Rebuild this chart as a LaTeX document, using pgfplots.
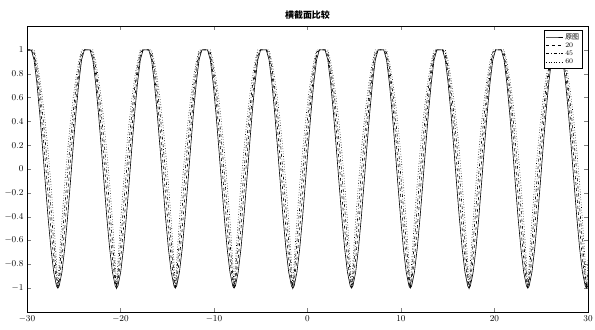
\documentclass[border=0pt]{standalone}
\usepackage{fontspec}
\usepackage{pgfplots}
\usepackage{pgfplotstable}
\pgfplotsset{compat=1.18}
\newfontfamily\cjk{Noto Sans CJK SC}

\pgfplotstableread{
x y1 y2 y3 y4
-30.000 1 1 1 1
-29.845 1 1 1 1
-29.545 1 1 1 1
-29.245 0.916 0.951 0.978 1
-28.945 0.722 0.796 0.853 0.903
-28.645 0.472 0.590 0.684 0.767
-28.345 0.185 0.343 0.475 0.595
-28.045 -0.116 0.069 0.233 0.389
-27.745 -0.408 -0.217 -0.035 0.149
-27.445 -0.665 -0.498 -0.319 -0.122
-27.145 -0.865 -0.752 -0.609 -0.428
-26.845 -0.982 -0.949 -0.887 -0.781
-26.704 -1 -1 -1 -1
-26.562 -0.982 -0.949 -0.887 -0.781
-26.262 -0.865 -0.752 -0.609 -0.428
-25.962 -0.665 -0.498 -0.319 -0.122
-25.662 -0.408 -0.217 -0.035 0.149
-25.362 -0.116 0.069 0.233 0.389
-25.062 0.185 0.343 0.475 0.595
-24.762 0.472 0.590 0.684 0.767
-24.462 0.722 0.796 0.853 0.903
-24.162 0.916 0.951 0.978 1
-23.862 1 1 1 1
-23.562 1 1 1 1
-23.262 1 1 1 1
-22.962 0.916 0.951 0.978 1
-22.662 0.722 0.796 0.853 0.903
-22.362 0.472 0.590 0.684 0.767
-22.062 0.185 0.343 0.475 0.595
-21.762 -0.116 0.069 0.233 0.389
-21.462 -0.408 -0.217 -0.035 0.149
-21.162 -0.665 -0.498 -0.319 -0.122
-20.862 -0.865 -0.752 -0.609 -0.428
-20.562 -0.982 -0.949 -0.887 -0.781
-20.420 -1 -1 -1 -1
-20.279 -0.982 -0.949 -0.887 -0.781
-19.979 -0.865 -0.752 -0.609 -0.428
-19.679 -0.665 -0.498 -0.319 -0.122
-19.379 -0.408 -0.217 -0.035 0.149
-19.079 -0.116 0.069 0.233 0.389
-18.779 0.185 0.343 0.475 0.595
-18.479 0.472 0.590 0.684 0.767
-18.179 0.722 0.796 0.853 0.903
-17.879 0.916 0.951 0.978 1
-17.579 1 1 1 1
-17.279 1 1 1 1
-16.979 1 1 1 1
-16.679 0.916 0.951 0.978 1
-16.379 0.722 0.796 0.853 0.903
-16.079 0.472 0.590 0.684 0.767
-15.779 0.185 0.343 0.475 0.595
-15.479 -0.116 0.069 0.233 0.389
-15.179 -0.408 -0.217 -0.035 0.149
-14.879 -0.665 -0.498 -0.319 -0.122
-14.579 -0.865 -0.752 -0.609 -0.428
-14.279 -0.982 -0.949 -0.887 -0.781
-14.137 -1 -1 -1 -1
-13.996 -0.982 -0.949 -0.887 -0.781
-13.696 -0.865 -0.752 -0.609 -0.428
-13.396 -0.665 -0.498 -0.319 -0.122
-13.096 -0.408 -0.217 -0.035 0.149
-12.796 -0.116 0.069 0.233 0.389
-12.496 0.185 0.343 0.475 0.595
-12.196 0.472 0.590 0.684 0.767
-11.896 0.722 0.796 0.853 0.903
-11.596 0.916 0.951 0.978 1
-11.296 1 1 1 1
-10.996 1 1 1 1
-10.696 1 1 1 1
-10.396 0.916 0.951 0.978 1
-10.096 0.722 0.796 0.853 0.903
-9.796 0.472 0.590 0.684 0.767
-9.496 0.185 0.343 0.475 0.595
-9.196 -0.116 0.069 0.233 0.389
-8.896 -0.408 -0.217 -0.035 0.149
-8.596 -0.665 -0.498 -0.319 -0.122
-8.296 -0.865 -0.752 -0.609 -0.428
-7.996 -0.982 -0.949 -0.887 -0.781
-7.854 -1 -1 -1 -1
-7.712 -0.982 -0.949 -0.887 -0.781
-7.412 -0.865 -0.752 -0.609 -0.428
-7.112 -0.665 -0.498 -0.319 -0.122
-6.812 -0.408 -0.217 -0.035 0.149
-6.512 -0.116 0.069 0.233 0.389
-6.212 0.185 0.343 0.475 0.595
-5.912 0.472 0.590 0.684 0.767
-5.612 0.722 0.796 0.853 0.903
-5.312 0.916 0.951 0.978 1
-5.012 1 1 1 1
-4.712 1 1 1 1
-4.412 1 1 1 1
-4.112 0.916 0.951 0.978 1
-3.812 0.722 0.796 0.853 0.903
-3.512 0.472 0.590 0.684 0.767
-3.212 0.185 0.343 0.475 0.595
-2.912 -0.116 0.069 0.233 0.389
-2.612 -0.408 -0.217 -0.035 0.149
-2.312 -0.665 -0.498 -0.319 -0.122
-2.012 -0.865 -0.752 -0.609 -0.428
-1.712 -0.982 -0.949 -0.887 -0.781
-1.571 -1 -1 -1 -1
-1.429 -0.982 -0.949 -0.887 -0.781
-1.129 -0.865 -0.752 -0.609 -0.428
-0.829 -0.665 -0.498 -0.319 -0.122
-0.529 -0.408 -0.217 -0.035 0.149
-0.229 -0.116 0.069 0.233 0.389
0.071 0.185 0.343 0.475 0.595
0.371 0.472 0.590 0.684 0.767
0.671 0.722 0.796 0.853 0.903
0.971 0.916 0.951 0.978 1
1.271 1 1 1 1
1.571 1 1 1 1
1.871 1 1 1 1
2.171 0.916 0.951 0.978 1
2.471 0.722 0.796 0.853 0.903
2.771 0.472 0.590 0.684 0.767
3.071 0.185 0.343 0.475 0.595
3.371 -0.116 0.069 0.233 0.389
3.671 -0.408 -0.217 -0.035 0.149
3.971 -0.665 -0.498 -0.319 -0.122
4.271 -0.865 -0.752 -0.609 -0.428
4.571 -0.982 -0.949 -0.887 -0.781
4.712 -1 -1 -1 -1
4.854 -0.982 -0.949 -0.887 -0.781
5.154 -0.865 -0.752 -0.609 -0.428
5.454 -0.665 -0.498 -0.319 -0.122
5.754 -0.408 -0.217 -0.035 0.149
6.054 -0.116 0.069 0.233 0.389
6.354 0.185 0.343 0.475 0.595
6.654 0.472 0.590 0.684 0.767
6.954 0.722 0.796 0.853 0.903
7.254 0.916 0.951 0.978 1
7.554 1 1 1 1
7.854 1 1 1 1
8.154 1 1 1 1
8.454 0.916 0.951 0.978 1
8.754 0.722 0.796 0.853 0.903
9.054 0.472 0.590 0.684 0.767
9.354 0.185 0.343 0.475 0.595
9.654 -0.116 0.069 0.233 0.389
9.954 -0.408 -0.217 -0.035 0.149
10.254 -0.665 -0.498 -0.319 -0.122
10.554 -0.865 -0.752 -0.609 -0.428
10.854 -0.982 -0.949 -0.887 -0.781
10.996 -1 -1 -1 -1
11.137 -0.982 -0.949 -0.887 -0.781
11.437 -0.865 -0.752 -0.609 -0.428
11.737 -0.665 -0.498 -0.319 -0.122
12.037 -0.408 -0.217 -0.035 0.149
12.337 -0.116 0.069 0.233 0.389
12.637 0.185 0.343 0.475 0.595
12.937 0.472 0.590 0.684 0.767
13.237 0.722 0.796 0.853 0.903
13.537 0.916 0.951 0.978 1
13.837 1 1 1 1
14.137 1 1 1 1
14.437 1 1 1 1
14.737 0.916 0.951 0.978 1
15.037 0.722 0.796 0.853 0.903
15.337 0.472 0.590 0.684 0.767
15.637 0.185 0.343 0.475 0.595
15.937 -0.116 0.069 0.233 0.389
16.237 -0.408 -0.217 -0.035 0.149
16.537 -0.665 -0.498 -0.319 -0.122
16.837 -0.865 -0.752 -0.609 -0.428
17.137 -0.982 -0.949 -0.887 -0.781
17.279 -1 -1 -1 -1
17.420 -0.982 -0.949 -0.887 -0.781
17.720 -0.865 -0.752 -0.609 -0.428
18.020 -0.665 -0.498 -0.319 -0.122
18.320 -0.408 -0.217 -0.035 0.149
18.620 -0.116 0.069 0.233 0.389
18.920 0.185 0.343 0.475 0.595
19.220 0.472 0.590 0.684 0.767
19.520 0.722 0.796 0.853 0.903
19.820 0.916 0.951 0.978 1
20.120 1 1 1 1
20.420 1 1 1 1
20.720 1 1 1 1
21.020 0.916 0.951 0.978 1
21.320 0.722 0.796 0.853 0.903
21.620 0.472 0.590 0.684 0.767
21.920 0.185 0.343 0.475 0.595
22.220 -0.116 0.069 0.233 0.389
22.520 -0.408 -0.217 -0.035 0.149
22.820 -0.665 -0.498 -0.319 -0.122
23.120 -0.865 -0.752 -0.609 -0.428
23.420 -0.982 -0.949 -0.887 -0.781
23.562 -1 -1 -1 -1
23.704 -0.982 -0.949 -0.887 -0.781
24.004 -0.865 -0.752 -0.609 -0.428
24.304 -0.665 -0.498 -0.319 -0.122
24.604 -0.408 -0.217 -0.035 0.149
24.904 -0.116 0.069 0.233 0.389
25.204 0.185 0.343 0.475 0.595
25.504 0.472 0.590 0.684 0.767
25.804 0.722 0.796 0.853 0.903
26.104 0.916 0.951 0.978 1
26.404 1 1 1 1
26.704 1 1 1 1
27.004 1 1 1 1
27.304 0.916 0.951 0.978 1
27.604 0.722 0.796 0.853 0.903
27.904 0.472 0.590 0.684 0.767
28.204 0.185 0.343 0.475 0.595
28.504 -0.116 0.069 0.233 0.389
28.804 -0.408 -0.217 -0.035 0.149
29.104 -0.665 -0.498 -0.319 -0.122
29.404 -0.865 -0.752 -0.609 -0.428
29.704 -0.982 -0.949 -0.887 -0.781
29.845 -1 -1 -1 -1
30.000 -0.979 -0.942 -0.875 -0.764
}\data

\begin{document}
\begin{tikzpicture}
\begin{axis}[
  scale only axis,
  width=561bp, height=286bp,
  xmin=-30, xmax=30, ymin=-1.2, ymax=1.2,
  xtick={-30,-20,-10,0,10,20,30},
  ytick={-1,-0.8,-0.6,-0.4,-0.2,0,0.2,0.4,0.6,0.8,1},
  tick label style={font=\small},
  major tick length=4bp,
  title={\cjk\bfseries 横截面比较},
  title style={font=\small, at={(0.5,1)}, anchor=south, yshift=-3bp},
  legend style={at={(0.99,0.985)}, anchor=north east, font=\scriptsize,
    inner sep=1pt, row sep=-2pt, legend cell align=left},
  legend cell align=left,
  every axis plot/.append style={black, line width=0.6pt},
]
\addplot[solid] table[x=x, y=y1] {\data};
\addplot[dashed] table[x=x, y=y2] {\data};
\addplot[dashdotted] table[x=x, y=y3] {\data};
\addplot[dotted] table[x=x, y=y4] {\data};
\legend{{\cjk 原图}, 20, 45, 60}
\end{axis}
\pgfresetboundingbox
\path ([xshift=-27bp,yshift=-17bp]current axis.south west) rectangle ([xshift=7bp,yshift=26bp]current axis.north east);
\end{tikzpicture}
\end{document}
